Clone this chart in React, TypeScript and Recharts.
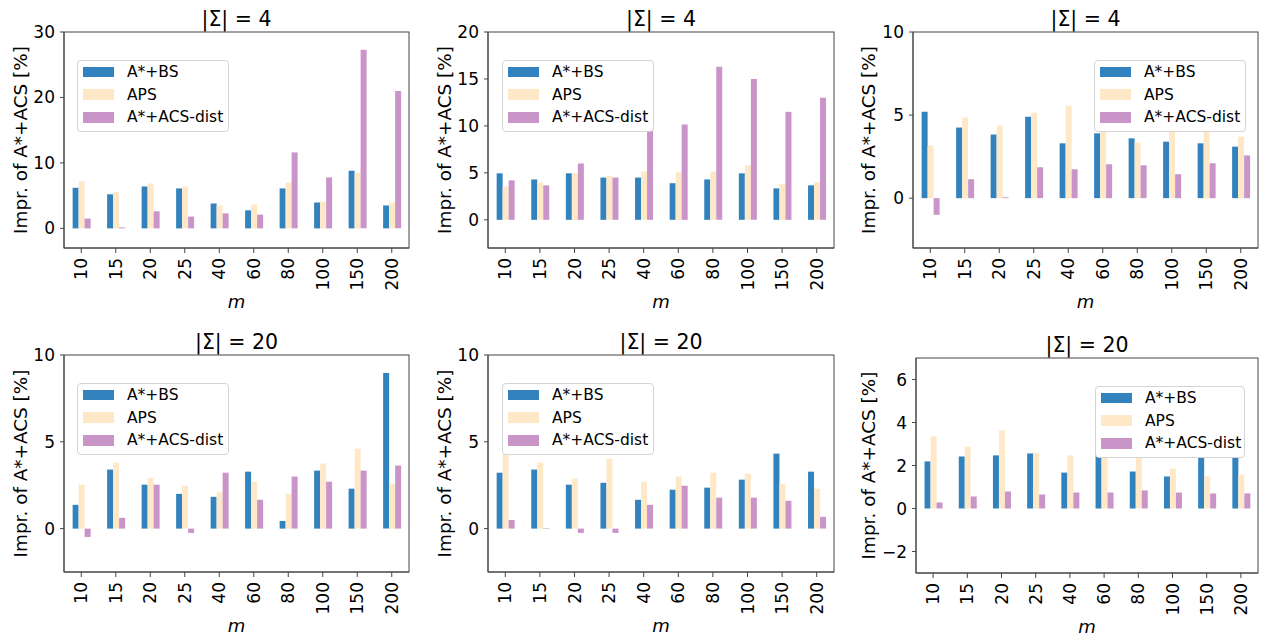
import React from 'react';
import { BarChart, Bar, XAxis, YAxis, Legend } from 'recharts';

// ---------------- data ----------------
const categories = ['10', '15', '20', '25', '40', '60', '80', '100', '150', '200'];
const seriesNames = ['A*+BS', 'APS', 'A*+ACS-dist'];
const titles = ['|Σ| = 4', '|Σ| = 4', '|Σ| = 4', '|Σ| = 20', '|Σ| = 20', '|Σ| = 20'];
const yLabel = 'Impr. of A*+ACS [%]';
const xLabel = 'm';

const p1BS = [6.2, 5.2, 6.4, 6.1, 3.8, 2.75, 6.1, 3.95, 8.8, 3.5];
const p1APS = [7.2, 5.5, 6.85, 6.4, 3.5, 3.65, 7.0, 4.1, 8.5, 3.95];
const p1Dist = [1.5, 0.15, 2.6, 1.8, 2.3, 2.1, 11.6, 7.8, 27.3, 21.0];

const p2BS = [4.95, 4.3, 4.95, 4.5, 4.5, 3.9, 4.3, 4.95, 3.35, 3.67];
const p2APS = [3.57, 4.0, 4.95, 4.7, 5.15, 5.05, 5.15, 5.8, 3.8, 4.0];
const p2Dist = [4.2, 3.67, 6.0, 4.5, 10.5, 10.15, 16.3, 15.0, 11.5, 13.0];

const p3BS = [5.2, 4.25, 3.83, 4.9, 3.3, 3.9, 3.6, 3.4, 3.3, 3.1];
const p3APS = [3.17, 4.85, 4.37, 5.15, 5.57, 4.3, 3.35, 4.2, 4.4, 3.7];
const p3Dist = [-1.0, 1.14, 0.05, 1.86, 1.74, 2.04, 1.98, 1.44, 2.1, 2.57];

const p4BS = [1.37, 3.4, 2.53, 2.0, 1.83, 3.28, 0.44, 3.34, 2.3, 8.96];
const p4APS = [2.53, 3.8, 2.93, 2.47, 2.12, 2.7, 2.0, 3.75, 4.6, 2.59];
const p4Dist = [-0.48, 0.62, 2.53, -0.25, 3.22, 1.66, 3.0, 2.7, 3.34, 3.63];

const p5BS = [3.22, 3.4, 2.53, 2.64, 1.66, 2.24, 2.36, 2.82, 4.32, 3.28];
const p5APS = [4.3, 3.8, 2.88, 4.03, 2.7, 3.0, 3.22, 3.17, 2.59, 2.3];
const p5Dist = [0.5, 0.03, -0.25, -0.25, 1.37, 2.47, 1.78, 1.78, 1.6, 0.68];

const p6BS = [2.19, 2.42, 2.47, 2.56, 1.67, 2.5, 1.72, 1.49, 2.5, 2.45];
const p6APS = [3.35, 2.88, 3.63, 2.6, 2.47, 2.7, 2.5, 1.86, 1.49, 1.58];
const p6Dist = [0.28, 0.56, 0.79, 0.65, 0.74, 0.74, 0.84, 0.74, 0.7, 0.7];

const yDomains: number[][] = [[-3, 30], [-3, 20], [-3, 10], [-2.5, 10], [-2.5, 10], [-3, 7]];
const yTicks: number[][] = [[0, 10, 20, 30], [0, 5, 10, 15, 20], [0, 5, 10], [0, 5, 10], [0, 5, 10], [-2, 0, 2, 4, 6]];

const panelSeries = [
  [p1BS, p1APS, p1Dist],
  [p2BS, p2APS, p2Dist],
  [p3BS, p3APS, p3Dist],
  [p4BS, p4APS, p4Dist],
  [p5BS, p5APS, p5Dist],
  [p6BS, p6APS, p6Dist],
];

// ---------------- style / layout ----------------
const COLORS = ['#3182bd', '#fee8c8', '#c994c7'];
const FONT = "'DejaVu Sans', sans-serif";
const SPINE = '#444';
const YW = 64;
const MT = 32;
const MR = 4;
const XH = 66;

const layouts = [
  { PL: 64, PR: 409, PT: 32, PB: 248, LX: 77, LY: 60, LW: 152, YL: 44 },
  { PL: 488, PR: 834, PT: 32, PB: 248, LX: 502, LY: 60, LW: 152, YL: 44 },
  { PL: 913, PR: 1258, PT: 32, PB: 248, LX: 1094, LY: 60, LW: 152, YL: 45 },
  { PL: 64, PR: 409, PT: 355, PB: 572, LX: 77, LY: 383, LW: 152, YL: 44 },
  { PL: 488, PR: 834, PT: 355, PB: 572, LX: 502, LY: 383, LW: 152, YL: 44 },
  { PL: 916, PR: 1258, PT: 358, PB: 573, LX: 1095, LY: 386, LW: 150, YL: 48 },
];

const fmtY = (v: number) => (v < 0 ? '\u2212' + Math.abs(v) : String(v));

const RotTick = (props: any) => {
  const { x, y, payload } = props;
  return (
    <text
      x={x}
      y={y}
      transform={`rotate(-90 ${x} ${y})`}
      textAnchor="end"
      dominantBaseline="central"
      fontSize={17}
      fontFamily={FONT}
      fill="#000"
    >
      {payload.value}
    </text>
  );
};

const makeLegend = (w: number) => () => (
  <div
    style={{
      width: w,
      height: 72,
      boxSizing: 'border-box',
      background: '#fff',
      border: '1px solid #d4d4d4',
      borderRadius: 4,
      position: 'relative',
      fontFamily: FONT,
      fontSize: 15.5,
      color: '#000',
    }}
  >
    {seriesNames.map((name, i) => (
      <div key={name} style={{ position: 'absolute', left: 0, top: 11 + i * 22.7 - 11, height: 22, width: '100%' }}>
        <div style={{ position: 'absolute', left: 5, top: 5.75, width: 31, height: 10.5, background: COLORS[i] }} />
        <div style={{ position: 'absolute', left: 49, top: 0, lineHeight: '22px', whiteSpace: 'nowrap' }}>{name}</div>
      </div>
    ))}
  </div>
);

function Panel({ idx }: { idx: number }) {
  const L = layouts[idx];
  const [bs, aps, dist] = panelSeries[idx];
  const data = categories.map((c, i) => ({ m: c, bs: bs[i], aps: aps[i], dist: dist[i] }));
  const left = L.PL - YW;
  const top = L.PT - MT;
  const width = L.PR - left + MR;
  const height = MT + (L.PB - L.PT) + XH;
  const tickStyle = { fontSize: 17, fill: '#000', fontFamily: FONT };
  return (
    <div style={{ position: 'absolute', left, top, width, height }}>
      <BarChart
        width={width}
        height={height}
        data={data}
        margin={{ top: MT, right: MR, bottom: 0, left: 0 }}
        barCategoryGap="25%"
        barGap={0}
      >
        <XAxis
          dataKey="m"
          height={XH}
          interval={0}
          tickSize={5}
          tickMargin={5}
          tick={<RotTick />}
          axisLine={{ stroke: SPINE }}
          tickLine={{ stroke: SPINE }}
        />
        <YAxis
          width={YW}
          domain={yDomains[idx]}
          ticks={yTicks[idx]}
          allowDataOverflow
          interval={0}
          tickFormatter={fmtY}
          tickSize={4}
          tickMargin={5}
          tick={tickStyle}
          axisLine={{ stroke: SPINE }}
          tickLine={{ stroke: SPINE }}
        />
        <Legend
          layout="vertical"
          align="center"
          verticalAlign="middle"
          content={makeLegend(L.LW)}
          wrapperStyle={{ left: L.LX - left, top: L.LY - top, width: L.LW, height: 72 }}
        />
        <Bar dataKey="bs" name={seriesNames[0]} fill={COLORS[0]} isAnimationActive={false} />
        <Bar dataKey="aps" name={seriesNames[1]} fill={COLORS[1]} isAnimationActive={false} />
        <Bar dataKey="dist" name={seriesNames[2]} fill={COLORS[2]} isAnimationActive={false} />
      </BarChart>
    </div>
  );
}

export default function App() {
  return (
    <div style={{ position: 'relative', width: 1262, height: 636, background: '#fff', overflow: 'hidden' }}>
      <style>{'body{margin:0;}'}</style>
      {layouts.map((_, i) => (
        <Panel key={i} idx={i} />
      ))}
      <svg
        width={1262}
        height={636}
        style={{ position: 'absolute', left: 0, top: 0, pointerEvents: 'none' }}
      >
        {layouts.map((L, i) => {
          const cx = (L.PL + L.PR) / 2;
          const cy = (L.PT + L.PB) / 2;
          const yx = L.PL - L.YL;
          return (
            <g key={i} fontFamily={FONT} fill="#000">
              <rect x={L.PL} y={L.PT} width={L.PR - L.PL} height={L.PB - L.PT} fill="none" stroke={SPINE} strokeWidth={1} />
              <text x={cx} y={L.PT - 6} textAnchor="middle" fontSize={20.5}>
                {titles[i]}
              </text>
              <text x={cx} y={L.PB + 60} textAnchor="middle" fontSize={18} fontStyle="italic">
                {xLabel}
              </text>
              <text
                x={yx}
                y={cy}
                transform={`rotate(-90 ${yx} ${cy})`}
                textAnchor="middle"
                dominantBaseline="central"
                fontSize={18.4}
              >
                {yLabel}
              </text>
            </g>
          );
        })}
      </svg>
    </div>
  );
}
